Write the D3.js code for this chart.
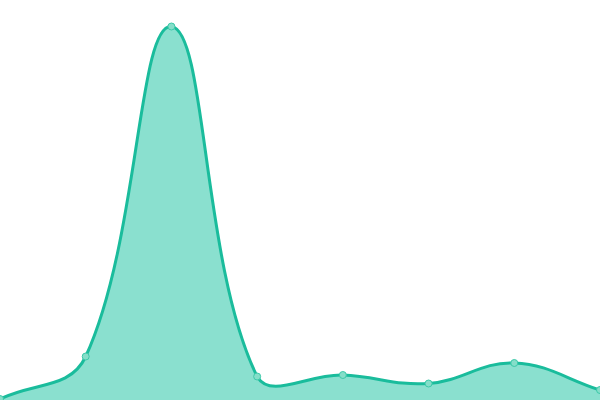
<!DOCTYPE html>
<html lang="en">
<head>
<meta charset="UTF-8">
<title>Area</title>
<style>
  html, body { margin: 0; padding: 0; background: #fff; overflow: hidden; }
  svg { display: block; }
</style>
</head>
<body>
<div id="chart"></div>
<script src="https://d3js.org/d3.v7.min.js"></script>
<script>
  const WIDTH = 600;
  const HEIGHT = 400;
  const TENSION = 0.4;

  // data
  const categories = ["A", "B", "C", "D", "E", "F", "G", "H"];
  const values = [1, 43.5, 373.5, 23.5, 25, 16.5, 37, 10];

  const x = d3.scalePoint()
    .domain(categories)
    .range([0, WIDTH]);

  const y = d3.scaleLinear()
    .domain([0, 400])
    .range([HEIGHT, 0]);

  const data = categories.map((c, i) => ({ c, v: values[i] }));

  // spline where each control point is weighted by neighbour distance
  function SplineCurve(context) { this._context = context; }
  SplineCurve.prototype = {
    areaStart() { this._line = 0; },
    areaEnd() { this._line = NaN; },
    lineStart() { this._pts = []; },
    point(px, py) { this._pts.push([+px, +py]); },
    lineEnd() {
      const p = this._pts, n = p.length, ctx = this._context;
      const clampX = v => Math.max(0, Math.min(WIDTH, v));
      const clampY = v => Math.max(0, Math.min(HEIGHT, v));
      const cp = p.map((cur, i) => {
        const prev = p[i - 1] || cur, next = p[i + 1] || cur;
        const d01 = Math.hypot(cur[0] - prev[0], cur[1] - prev[1]);
        const d12 = Math.hypot(next[0] - cur[0], next[1] - cur[1]);
        let s01 = d01 / (d01 + d12), s12 = d12 / (d01 + d12);
        if (isNaN(s01)) s01 = 0;
        if (isNaN(s12)) s12 = 0;
        const fa = TENSION * s01, fb = TENSION * s12;
        return {
          px: clampX(cur[0] - fa * (next[0] - prev[0])),
          py: clampY(cur[1] - fa * (next[1] - prev[1])),
          nx: clampX(cur[0] + fb * (next[0] - prev[0])),
          ny: clampY(cur[1] + fb * (next[1] - prev[1]))
        };
      });
      if (n) {
        this._line ? ctx.lineTo(p[0][0], p[0][1]) : ctx.moveTo(p[0][0], p[0][1]);
        for (let i = 1; i < n; i++) {
          ctx.bezierCurveTo(cp[i - 1].nx, cp[i - 1].ny, cp[i].px, cp[i].py, p[i][0], p[i][1]);
        }
      }
      if (this._line || (this._line !== 0 && n === 1)) ctx.closePath();
      this._line = 1 - this._line;
    }
  };
  const curve = ctx => new SplineCurve(ctx);

  const svg = d3.select("#chart")
    .append("svg")
    .attr("width", WIDTH)
    .attr("height", HEIGHT);

  const area = d3.area()
    .x(d => x(d.c))
    .y0(y(0))
    .y1(d => y(d.v))
    .curve(curve);

  const line = d3.line()
    .x(d => x(d.c))
    .y(d => y(d.v))
    .curve(curve);

  svg.append("path")
    .datum(data)
    .attr("d", area)
    .attr("fill", "#8ae0cf");

  svg.append("path")
    .datum(data)
    .attr("d", line)
    .attr("fill", "none")
    .attr("stroke", "#1abc9c")
    .attr("stroke-width", 3);

  svg.selectAll("circle.pt")
    .data(data)
    .enter()
    .append("circle")
    .attr("class", "pt")
    .attr("cx", d => x(d.c))
    .attr("cy", d => y(d.v))
    .attr("r", 3.5)
    .attr("fill", "#85dec9")
    .attr("stroke", "#3cc9a9")
    .attr("stroke-width", 1);
</script>
</body>
</html>
